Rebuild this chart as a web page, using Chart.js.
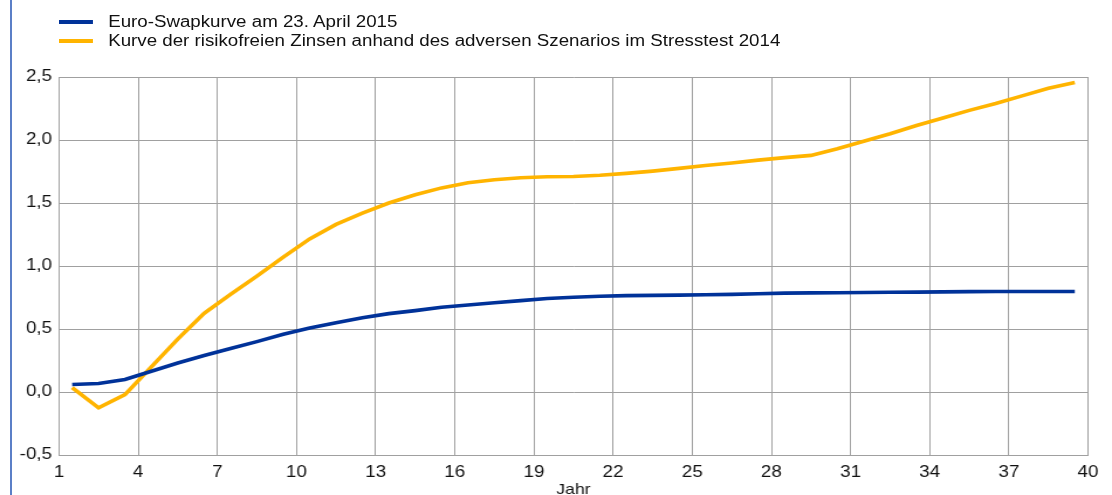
<!DOCTYPE html>
<html>
<head>
<meta charset="utf-8">
<script src="https://cdn.jsdelivr.net/npm/chart.js@4"></script>
<style>
  html, body { margin: 0; padding: 0; background: #fff; }
  #wrap { position: relative; width: 1112px; height: 495px; overflow: hidden; }
  #frame { position: absolute; left: 10px; top: 0; width: 2px; height: 495px; background: #5b7fc7; }
  /* the original graphic is stretched horizontally, so the canvas is too */
  #myLine { position: absolute; left: 0; top: 0; width: 1112px !important; height: 495px !important; }
  #legend { position: absolute; left: 59px; top: 12px; font: 16px "Liberation Sans", Arial, sans-serif; color: #111;
            transform: scaleX(1.17); transform-origin: 0 0; }
  .item { height: 19px; line-height: 19px; white-space: nowrap; }
  .swatch { display: inline-block; width: 29px; height: 4px; vertical-align: middle; margin-right: 13px; position: relative; top: -1px; }
</style>
</head>
<body>
<div id="wrap">
  <canvas id="myLine" width="950" height="495"></canvas>
  <div id="frame"></div>
  <div id="legend"></div>
</div>
<script>
  // Laufzeit in Jahren (Punkte liegen mittig zwischen den Gitterlinien)
  const years = [1.5, 2.5, 3.5, 4.5, 5.5, 6.5, 7.5, 8.5, 9.5, 10.5,
                 11.5, 12.5, 13.5, 14.5, 15.5, 16.5, 17.5, 18.5, 19.5, 20.5,
                 21.5, 22.5, 23.5, 24.5, 25.5, 26.5, 27.5, 28.5, 29.5, 30.5,
                 31.5, 32.5, 33.5, 34.5, 35.5, 36.5, 37.5, 38.5, 39.5];

  const swapCurve = [0.06, 0.068, 0.1, 0.165, 0.23, 0.29, 0.345, 0.40, 0.458, 0.508,
                     0.55, 0.59, 0.622, 0.646, 0.672, 0.69, 0.708, 0.725, 0.742, 0.752,
                     0.76, 0.765, 0.767, 0.769, 0.772, 0.775, 0.78, 0.785, 0.787, 0.788,
                     0.79, 0.792, 0.793, 0.795, 0.797, 0.798, 0.798, 0.798, 0.798];

  const stressCurve = [0.035, -0.125, -0.02, 0.2, 0.42, 0.625, 0.775, 0.92, 1.07, 1.215,
                       1.33, 1.42, 1.5, 1.565, 1.62, 1.66, 1.685, 1.70, 1.708, 1.71,
                       1.72, 1.735, 1.753, 1.775, 1.797, 1.818, 1.84, 1.86, 1.878, 1.93,
                       1.99, 2.05, 2.115, 2.175, 2.235, 2.29, 2.35, 2.41, 2.456];

  const seriesNames = ['Euro-Swapkurve am 23. April 2015',
                       'Kurve der risikofreien Zinsen anhand des adversen Szenarios im Stresstest 2014'];
  const seriesColors = ['#003299', '#ffb400'];

  const xTicks = [1, 4, 7, 10, 13, 16, 19, 22, 25, 28, 31, 34, 37, 40];
  const yTicks = [-0.5, 0, 0.5, 1, 1.5, 2, 2.5];

  const toPoints = (vals) => vals.map((v, i) => ({ x: years[i], y: v }));

  const legend = document.getElementById('legend');
  seriesNames.forEach((name, i) => {
    const row = document.createElement('div');
    row.className = 'item';
    row.innerHTML = '<span class="swatch" style="background:' + seriesColors[i] + '"></span>' + name;
    legend.appendChild(row);
  });

  const fontFam = '"Liberation Sans", Arial, sans-serif';
  const gridColor = '#a0a0a0';

  const ctx = document.getElementById('myLine');

  const myLine = new Chart(ctx, {
    type: 'line',
    data: {
      datasets: [
        {
          label: seriesNames[0],
          data: toPoints(swapCurve),
          borderColor: seriesColors[0],
          borderWidth: 3.6,
          pointRadius: 0,
          tension: 0,
        },
        {
          label: seriesNames[1],
          data: toPoints(stressCurve),
          borderColor: seriesColors[1],
          borderWidth: 3.6,
          pointRadius: 0,
          tension: 0,
        },
      ]
    },
    options: {
      responsive: false,
      animation: false,
      devicePixelRatio: 1,
      layout: {
        padding: { left: 0, right: 20.5, top: 77, bottom: 0 }
      },
      plugins: {
        legend: { display: false },
        tooltip: { enabled: false }
      },
      scales: {
        x: {
          type: 'linear',
          min: 1,
          max: 40,
          afterBuildTicks: (s) => { s.ticks = xTicks.map(v => ({ value: v })); },
          afterFit: (s) => { s.height = 40; },
          grid: { color: gridColor, drawTicks: false },
          border: { color: gridColor },
          ticks: {
            color: '#111',
            padding: 8,
            maxRotation: 0,
            autoSkip: false,
            font: { family: fontFam, size: 16 }
          },
          title: {
            display: true,
            text: 'Jahr',
            color: '#111',
            padding: { top: 0, bottom: -4 },
            font: { family: fontFam, size: 15 }
          }
        },
        y: {
          min: -0.5,
          max: 2.5,
          afterBuildTicks: (s) => { s.ticks = yTicks.map(v => ({ value: v })); },
          afterFit: (s) => { s.width = 50.4; },
          grid: { color: gridColor, drawTicks: false },
          border: { color: gridColor },
          ticks: {
            color: '#111',
            padding: 6,
            font: { family: fontFam, size: 16 },
            callback: (v) => v.toFixed(1).replace('.', ',')
          }
        }
      }
    }
  });
</script>
</body>
</html>
